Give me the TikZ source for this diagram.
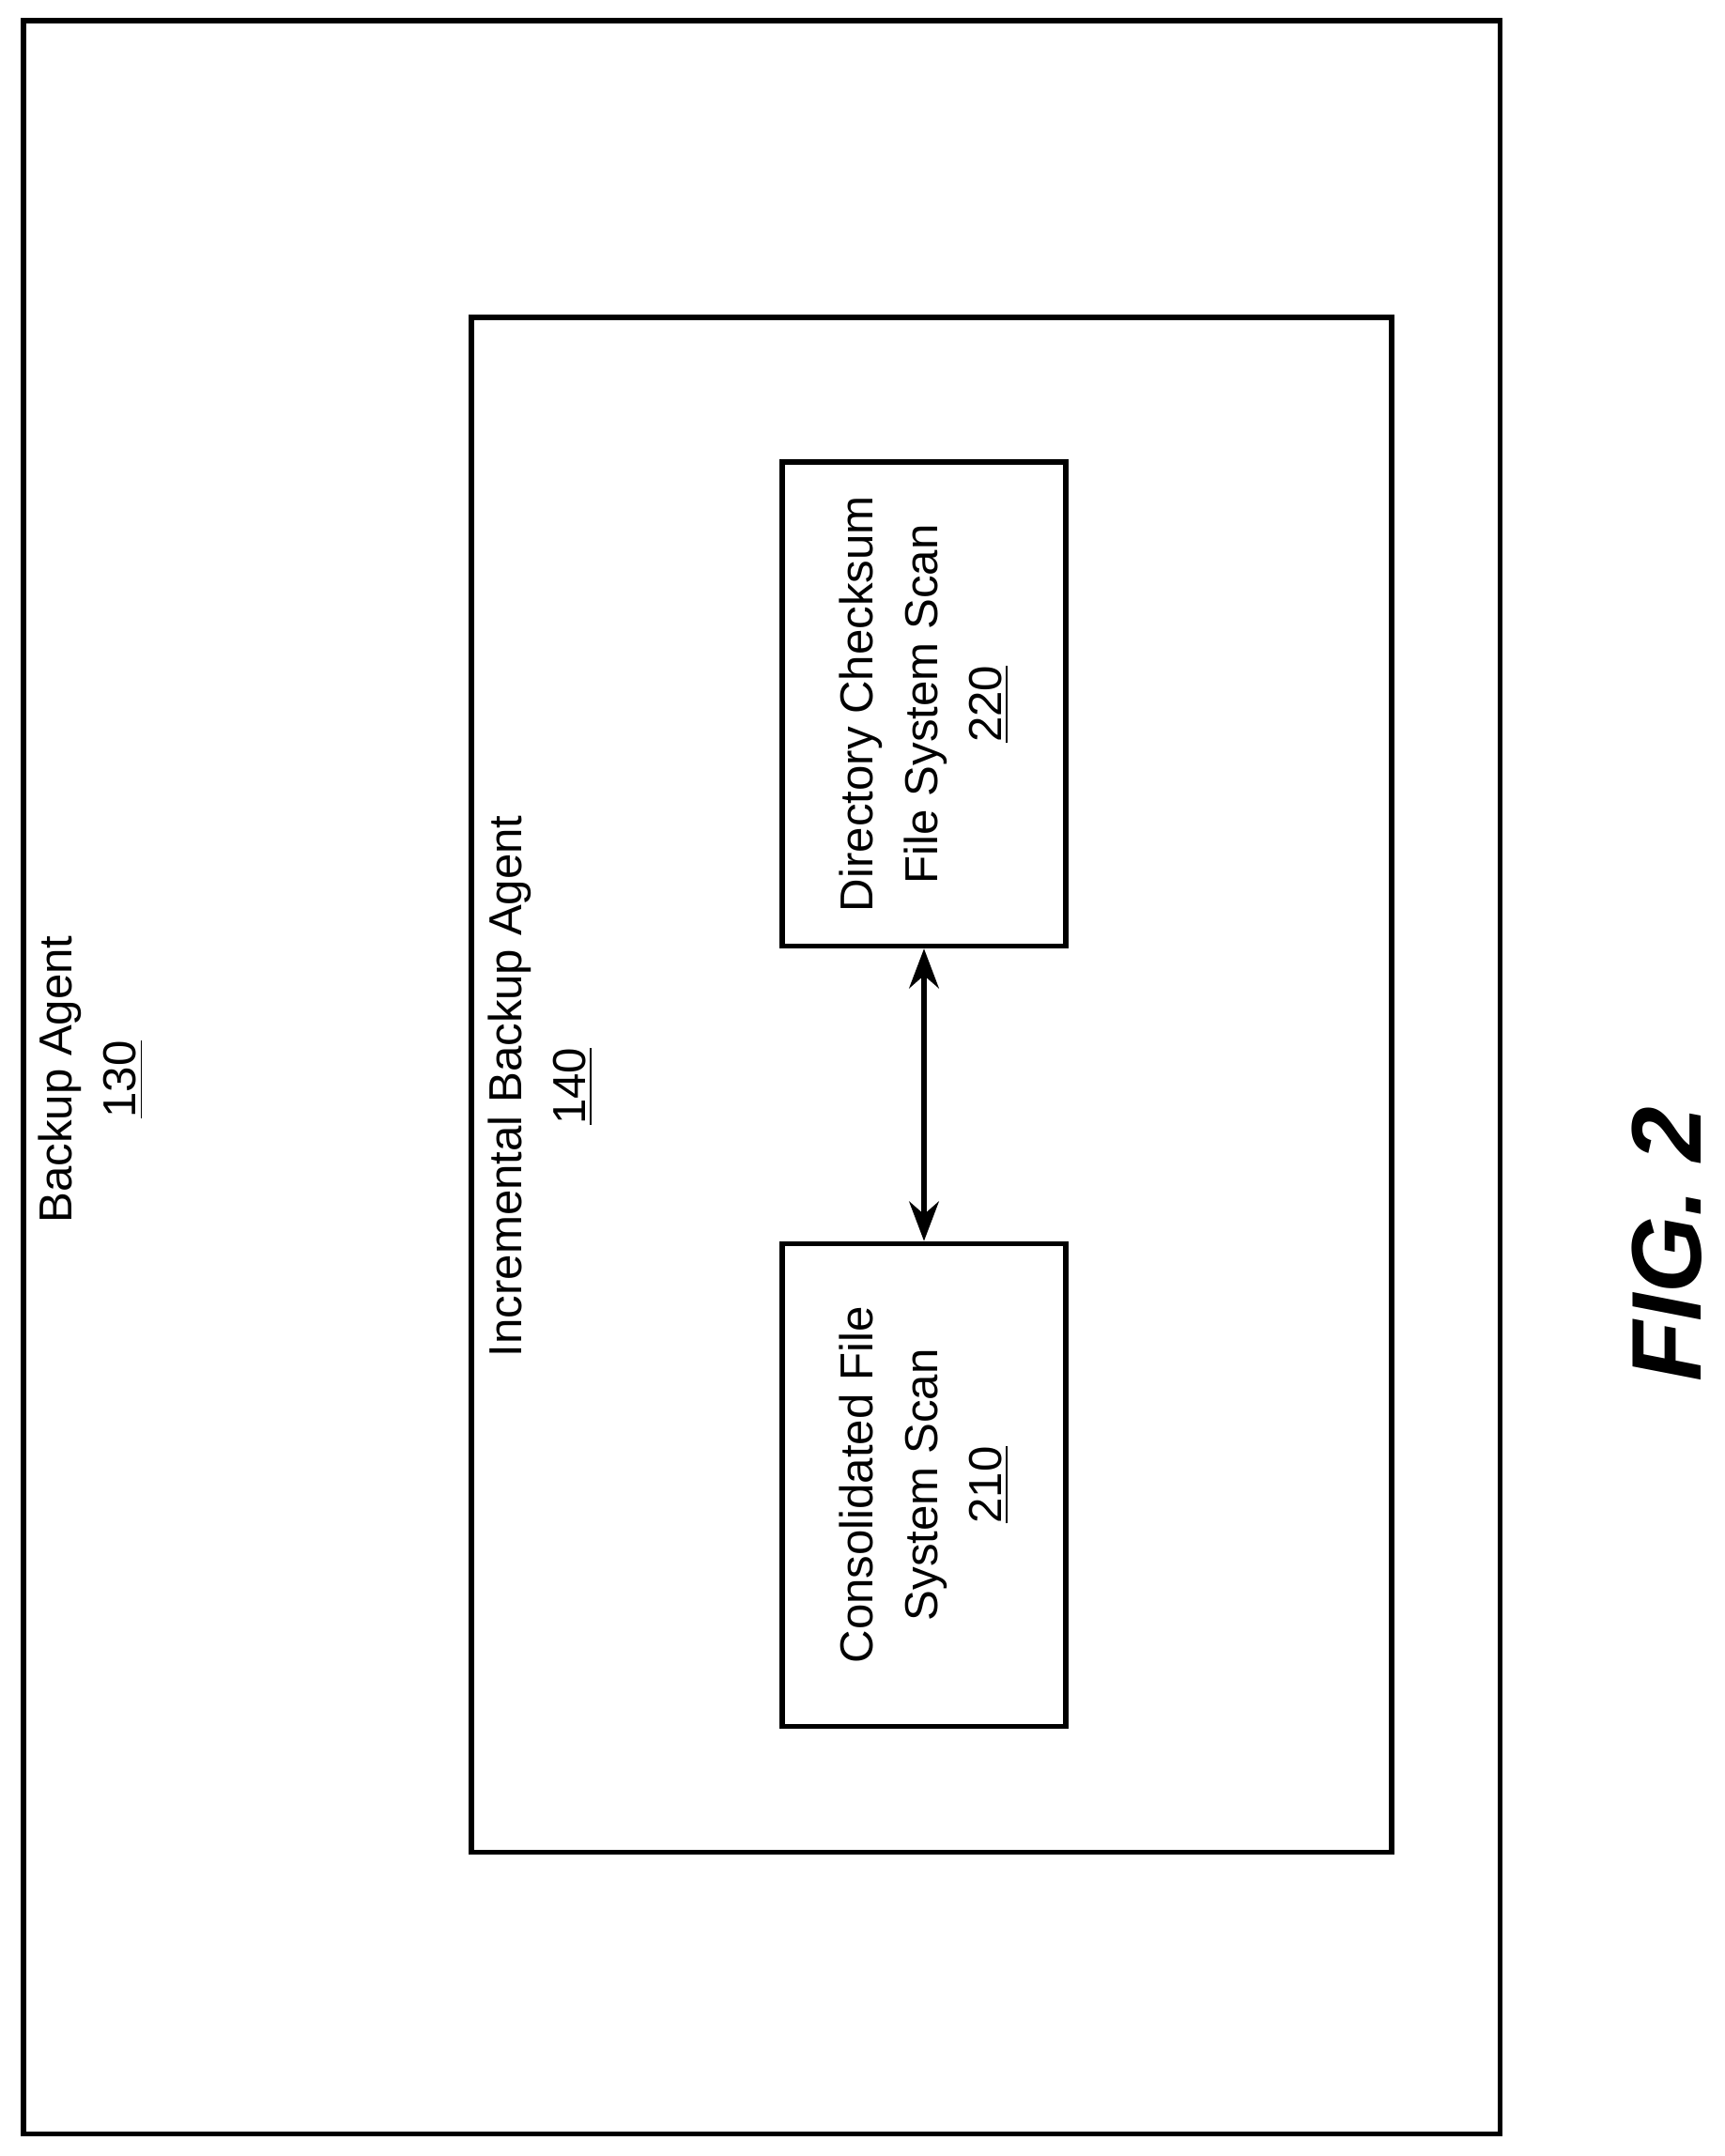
\documentclass[tikz,border=0pt]{standalone}
\usepackage{fontspec}
\setmainfont{Liberation Sans}
\usetikzlibrary{arrows.meta,calc}
\begin{document}
\begin{tikzpicture}[x=0.01465cm, y=-0.01465cm, >={Stealth[length=12pt,width=9pt]}, line width=1.6pt,
    box/.style={draw, line width=1.6pt},
    lbl/.style={rotate=90, align=center, font=\fontsize{14}{19.5}\selectfont}]
      % page
      \useasboundingbox (0,0) rectangle (1254,1568);

      % boxes
      \draw [box] (17,15) rectangle (1091,1552);
      \draw [box] (343,231) rectangle (1012,1347);
      \node [box, name=dcs, minimum width=352*0.01465cm, minimum height=206*0.01465cm,
             rotate=90] at (672,512) {};
      \node [box, name=cfs, minimum width=351*0.01465cm, minimum height=206*0.01465cm,
             rotate=90] at (672,1080) {};

      % labels
      \node [lbl, name=ba] at (66,785) {Backup Agent\\\underline{130}};
      \node [lbl, name=iba] at (393,790) {Incremental Backup Agent\\\underline{140}};
      \node [lbl, name=dcsl] at (dcs) {Directory Checksum\\File System Scan\\\underline{220}};
      \node [lbl, name=cfsl] at (cfs) {Consolidated File\\System Scan\\\underline{210}};
      \node [rotate=90, font=\fontsize{30}{34}\selectfont\bfseries\itshape, name=fig] at (1212,905) {FIG. 2};

      % connector
      \draw [<->] (dcs.west) -- (cfs.east);
\end{tikzpicture}
\end{document}
